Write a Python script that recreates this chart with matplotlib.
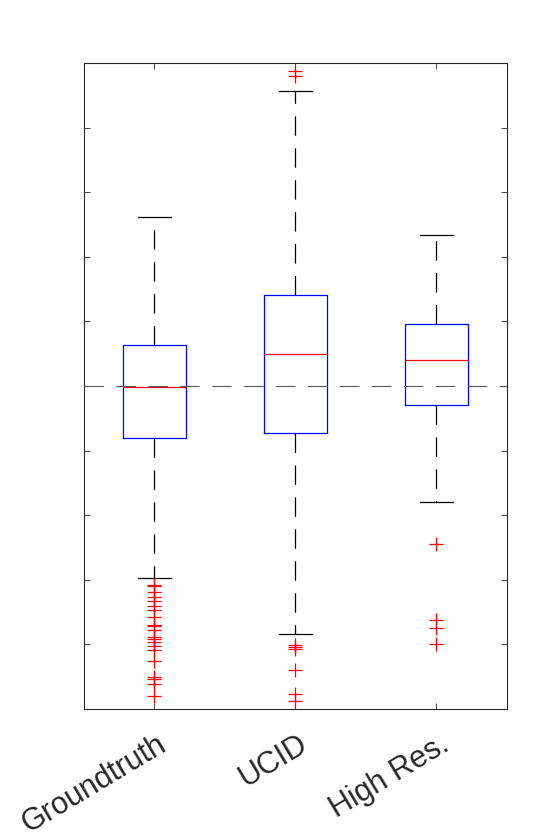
import matplotlib
matplotlib.use('Agg')
import matplotlib.pyplot as plt
from matplotlib.transforms import ScaledTranslation

# box statistics
labels = ['Groundtruth', 'UCID', 'High Res.']
medians = [-0.02, 0.49, 0.40]
q1s = [-0.81, -0.73, -0.30]
q3s = [0.64, 1.41, 0.96]
whis_lo = [-2.97, -3.84, -1.80]
whis_hi = [2.62, 4.57, 2.34]
outliers = [
    [-3.08, -3.10, -3.19, -3.27, -3.33, -3.40, -3.47, -3.57, -3.70, -3.72,
     -3.77, -3.88, -3.92, -3.97, -4.03, -4.09, -4.26, -4.51, -4.54, -4.62, -4.80],
    [4.88, 4.80, -4.01, -4.04, -4.07, -4.39, -4.77, -4.87],
    [-2.45, -3.63, -3.75, -3.99],
]

plt.rcParams['font.family'] = ['Liberation Sans', 'DejaVu Sans']
plt.rcParams['lines.scale_dashes'] = False

fig = plt.figure(figsize=(5.6, 8.4), dpi=100)
ax = fig.add_axes([0.150, 0.156, 0.755, 0.769])

stats = []
for i in range(len(labels)):
    stats.append(dict(med=medians[i], q1=q1s[i], q3=q3s[i],
                      whislo=whis_lo[i], whishi=whis_hi[i],
                      fliers=outliers[i], label=labels[i]))

dash = (0, (14, 9))
ax.axhline(0, color='0.35', lw=0.8, ls=dash, zorder=3)

ax.bxp(stats, positions=[1, 2, 3], widths=0.45, capwidths=0.23,
       boxprops=dict(color='blue', lw=0.9),
       medianprops=dict(color='red', lw=0.9),
       whiskerprops=dict(color='black', lw=0.9, ls=dash),
       capprops=dict(color='black', lw=0.9),
       flierprops=dict(marker='+', markeredgecolor='red', markersize=10,
                       markeredgewidth=0.9, linestyle='none'))

ax.set_xlim(0.5, 3.5)
ax.set_ylim(-5, 5)
ax.set_yticks(range(-4, 5))
ax.set_yticklabels([])
ax.set_xticks([1, 2, 3])
ax.tick_params(direction='in', length=4.3, width=0.6, color='#262626',
               top=True, right=True, labelsize=22, labelcolor='#262626')
ax.tick_params(axis='x', pad=24)
ax.set_xticklabels(labels, rotation=31, ha='right', va='center',
                   rotation_mode='anchor')
off = ScaledTranslation(10 / 100, 0, fig.dpi_scale_trans)
for lab in ax.get_xticklabels():
    lab.set_transform(lab.get_transform() + off)

for s in ax.spines.values():
    s.set_color('#262626')
    s.set_linewidth(0.8)

fig.savefig('out.png', dpi=100)
